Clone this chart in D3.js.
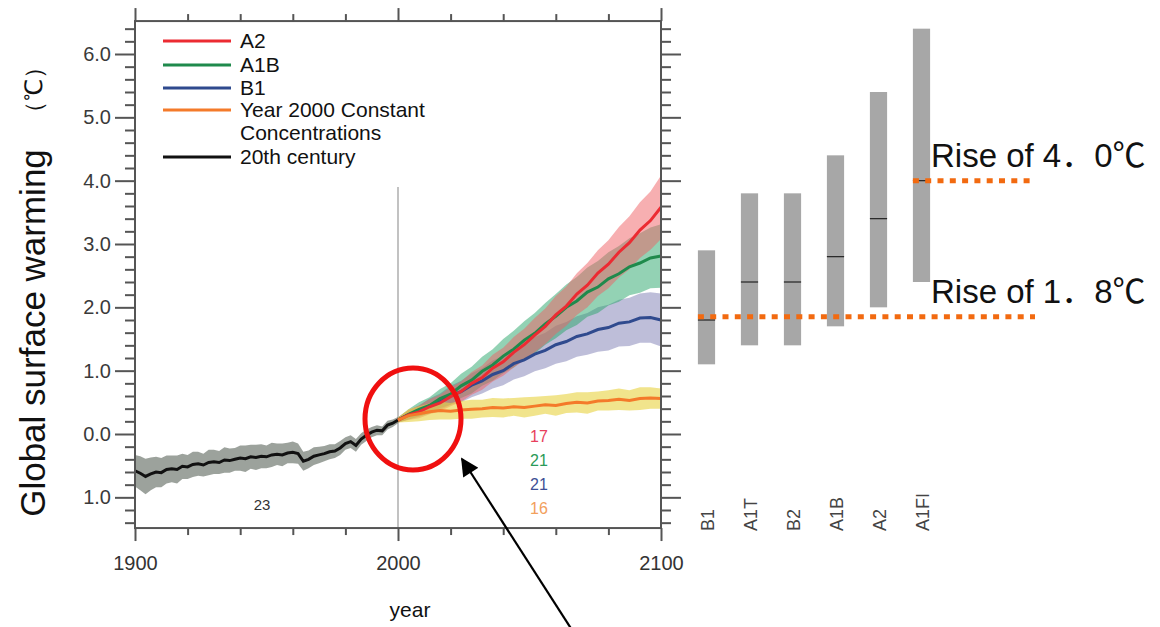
<!DOCTYPE html>
<html>
<head>
<meta charset="utf-8">
<script src="https://cdn.jsdelivr.net/npm/d3@7"></script>
<style>
  body { margin: 0; background: #fff; }
  svg { display: block; }
  text { font-family: "Liberation Sans", Arial, sans-serif; }
</style>
</head>
<body>
<svg id="drawing_region"></svg>
<script>
// ---- data ----
var histYears = d3.range(1900, 2001, 2);
var histValues = [-0.58,-0.62,-0.67,-0.63,-0.60,-0.61,-0.56,-0.55,-0.56,-0.51,
                  -0.52,-0.48,-0.47,-0.49,-0.45,-0.44,-0.45,-0.41,-0.42,-0.40,
                  -0.38,-0.39,-0.36,-0.37,-0.35,-0.36,-0.33,-0.32,-0.33,-0.30,
                  -0.29,-0.31,-0.43,-0.40,-0.35,-0.33,-0.31,-0.28,-0.27,-0.22,
                  -0.15,-0.12,-0.18,-0.08,-0.02,0.03,0.06,0.05,0.14,0.17,
                  0.22];
var histSpread = [0.25,0.27,0.28,0.26,0.24,0.23,0.22,0.21,0.22,0.20,
                  0.19,0.20,0.19,0.18,0.20,0.19,0.18,0.20,0.19,0.18,
                  0.20,0.21,0.19,0.20,0.19,0.18,0.19,0.17,0.18,0.16,
                  0.17,0.16,0.15,0.14,0.14,0.13,0.12,0.12,0.11,0.11,
                  0.10,0.10,0.10,0.09,0.09,0.08,0.08,0.07,0.07,0.06,
                  0.05];

var projYears = [2000,2004,2008,2012,2016,2020,2024,2028,2032,2036,2040,2044,2048,2052,2056,2060,2064,2068,2072,2076,2080,2084,2088,2092,2096,2100];
var a2Values  = [0.22,0.30,0.35,0.43,0.49,0.59,0.67,0.80,0.89,1.04,1.14,1.29,1.41,1.56,1.70,1.88,2.02,2.21,2.35,2.54,2.68,2.87,3.02,3.22,3.37,3.58];
var a2Spread  = [0.04,0.08,0.10,0.12,0.13,0.15,0.16,0.18,0.19,0.21,0.22,0.24,0.25,0.27,0.28,0.30,0.31,0.33,0.35,0.36,0.38,0.40,0.42,0.44,0.46,0.50];
var a1bValues = [0.22,0.31,0.39,0.45,0.56,0.63,0.76,0.85,0.99,1.09,1.23,1.34,1.48,1.59,1.74,1.86,2.00,2.10,2.24,2.32,2.45,2.53,2.64,2.70,2.78,2.81];
var a1bSpread = [0.04,0.08,0.11,0.13,0.15,0.17,0.19,0.21,0.23,0.25,0.27,0.29,0.30,0.32,0.33,0.35,0.36,0.38,0.39,0.41,0.42,0.44,0.45,0.47,0.48,0.50];
var b1Values  = [0.22,0.30,0.36,0.45,0.51,0.61,0.67,0.77,0.84,0.94,1.00,1.11,1.17,1.26,1.32,1.41,1.46,1.54,1.58,1.65,1.68,1.75,1.77,1.83,1.84,1.80];
var b1Spread  = [0.04,0.07,0.09,0.11,0.13,0.15,0.17,0.19,0.20,0.22,0.23,0.25,0.26,0.27,0.28,0.30,0.31,0.32,0.33,0.35,0.36,0.37,0.38,0.39,0.40,0.42];
var constValues = [0.22,0.29,0.32,0.35,0.37,0.36,0.38,0.39,0.40,0.42,0.41,0.43,0.42,0.44,0.46,0.45,0.48,0.50,0.49,0.52,0.53,0.55,0.53,0.56,0.57,0.56];
var constSpread = [0.04,0.10,0.12,0.13,0.14,0.13,0.14,0.15,0.14,0.15,0.15,0.14,0.16,0.15,0.14,0.16,0.15,0.16,0.17,0.15,0.16,0.17,0.16,0.18,0.17,0.16];

var yTickValues = [-1,0,1,2,3,4,5,6];
var yTickLabels = ["1.0","0.0","1.0","2.0","3.0","4.0","5.0","6.0"];
var xTickValues = [1900,2000,2100];

var legendLabels = ["A2","A1B","B1","Year 2000 Constant","20th century"];
var modelCounts = ["17","21","21","16"];
var histCount = "23";

var scenarios = ["B1","A1T","B2","A1B","A2","A1FI"];
var rangeLow  = [1.1,1.4,1.4,1.7,2.0,2.4];
var rangeHigh = [2.9,3.8,3.8,4.4,5.4,6.4];
var bestEst   = [1.8,2.4,2.4,2.8,3.4,4.0];

var riseLevels = [1.85,4.0];
var riseNumbers = [["1","8"],["4","0"]];

// ---- chart ----
var config = { width: 1160, height: 627 };
var svg = d3.select('#drawing_region')
  .attr('width', config.width)
  .attr('height', config.height);

var xscale = d3.scaleLinear().domain([1900, 2100]).range([135, 661]);
var yscale = d3.scaleLinear().domain([0, 6]).range([434, 54]);
var yTop = 6.52, yBottom = -1.485;

var colors = {
  a2: '#ec2b32', a1b: '#1f8a4c', b1: '#2f4a8e', cst: '#f47a2a', hist: '#111'
};
var fills = {
  a2: 'rgba(240,95,100,0.50)', a1b: 'rgba(40,165,105,0.50)', b1: 'rgba(100,100,165,0.42)',
  cst: 'rgba(232,212,70,0.62)', hist: 'rgba(95,105,95,0.62)'
};

function series(years, vals, spread) {
  return years.map((yr, i) => ({ x: yr, v: vals[i], s: spread[i] }));
}
var hist = series(histYears, histValues, histSpread);
var projections = [
  { key: 'b1',  data: series(projYears, b1Values, b1Spread) },
  { key: 'a1b', data: series(projYears, a1bValues, a1bSpread) },
  { key: 'a2',  data: series(projYears, a2Values, a2Spread) },
  { key: 'cst', data: series(projYears, constValues, constSpread) }
];

var area = d3.area()
  .x(d => xscale(d.x))
  .y0(d => yscale(d.v - d.s))
  .y1(d => yscale(d.v + d.s));
var line = d3.line()
  .x(d => xscale(d.x))
  .y(d => yscale(d.v));

var chart = svg.append('g');

// vertical 2000 line
chart.append('line')
  .attr('x1', xscale(2000)).attr('x2', xscale(2000))
  .attr('y1', yscale(3.9)).attr('y2', yscale(yBottom))
  .attr('stroke', '#999').attr('stroke-width', 1.2);

// bands
chart.append('path').datum(hist).attr('d', area).attr('fill', fills.hist);
projections.forEach(p => {
  chart.append('path').datum(p.data).attr('d', area).attr('fill', fills[p.key]);
});
// lines
chart.append('path').datum(hist).attr('d', line)
  .attr('fill', 'none').attr('stroke', colors.hist).attr('stroke-width', 3);
projections.forEach(p => {
  chart.append('path').datum(p.data).attr('d', line)
    .attr('fill', 'none').attr('stroke', colors[p.key]).attr('stroke-width', 3);
});

// frame
var fx0 = xscale(1900), fx1 = xscale(2100), fy0 = yscale(yTop), fy1 = yscale(yBottom);
chart.append('rect')
  .attr('x', fx0).attr('y', fy0)
  .attr('width', fx1 - fx0).attr('height', fy1 - fy0)
  .attr('fill', 'none').attr('stroke', '#555').attr('stroke-width', 2);

// axes with outward ticks
var yMinor = d3.range(-14, 65, 2).map(d => d / 10).filter(d => !yTickValues.includes(d));
var xMinor = d3.range(1920, 2100, 20).filter(d => !xTickValues.includes(d));

function tickStyle(g) {
  g.select('.domain').remove();
  g.selectAll('.tick line').attr('stroke', '#555').attr('stroke-width', 2);
}
chart.append('g').attr('transform', `translate(${fx0},0)`)
  .call(d3.axisLeft(yscale).tickValues(yMinor).tickSize(10).tickFormat(''))
  .call(tickStyle);
chart.append('g').attr('transform', `translate(${fx1},0)`)
  .call(d3.axisRight(yscale).tickValues(yMinor).tickSize(10).tickFormat(''))
  .call(tickStyle);
chart.append('g').attr('transform', `translate(${fx1},0)`)
  .call(d3.axisRight(yscale).tickValues(yTickValues).tickSize(20).tickFormat(''))
  .call(tickStyle);
var yaxis = chart.append('g').attr('transform', `translate(${fx0},0)`)
  .call(d3.axisLeft(yscale).tickValues(yTickValues).tickSize(20).tickPadding(4)
    .tickFormat((d, i) => yTickLabels[i]))
  .call(tickStyle);
yaxis.selectAll('.tick text')
  .attr('font-size', 20).attr('fill', '#3a3a3a')
  .attr('font-family', '"Liberation Sans", Arial, sans-serif');

chart.append('g').attr('transform', `translate(0,${fy0})`)
  .call(d3.axisTop(xscale).tickValues(xMinor).tickSize(7).tickFormat(''))
  .call(tickStyle);
chart.append('g').attr('transform', `translate(0,${fy0})`)
  .call(d3.axisTop(xscale).tickValues(xTickValues).tickSize(13).tickFormat(''))
  .call(tickStyle);
chart.append('g').attr('transform', `translate(0,${fy1})`)
  .call(d3.axisBottom(xscale).tickValues(xMinor).tickSize(7).tickFormat(''))
  .call(tickStyle);
var xaxis = chart.append('g').attr('transform', `translate(0,${fy1})`)
  .call(d3.axisBottom(xscale).tickValues(xTickValues).tickSize(13).tickPadding(15)
    .tickFormat(d3.format('d')))
  .call(tickStyle);
xaxis.selectAll('.tick text')
  .attr('font-size', 20).attr('fill', '#333')
  .attr('font-family', '"Liberation Sans", Arial, sans-serif');

// axis titles
svg.append('text')
  .attr('transform', `translate(45,333) rotate(-90)`)
  .attr('text-anchor', 'middle')
  .attr('font-size', 35).attr('fill', '#111')
  .text('Global surface warming');
svg.append('text')
  .attr('transform', `translate(42,90) rotate(-90)`)
  .attr('text-anchor', 'middle')
  .attr('font-size', 24).attr('fill', '#111')
  .attr('font-family', '"Noto Sans CJK JP", sans-serif')
  .text('（℃）');
svg.append('text')
  .attr('x', 410).attr('y', 617)
  .attr('text-anchor', 'middle')
  .attr('font-size', 21).attr('fill', '#111')
  .text('year');

// legend
var legendKeys = ['a2','a1b','b1','cst','hist'];
var legendRows = [41, 65, 88, 110, 157];
var legend = svg.append('g');
function legendText(y, s) {
  legend.append('text')
    .attr('x', 240).attr('y', y + 7)
    .attr('font-size', 21).attr('fill', '#111')
    .attr('textLength', s.length > 12 ? null : null)
    .text(s);
}
legendKeys.forEach((k, i) => {
  legend.append('line')
    .attr('x1', 163).attr('x2', 231)
    .attr('y1', legendRows[i]).attr('y2', legendRows[i])
    .attr('stroke', colors[k]).attr('stroke-width', 3);
  legendText(legendRows[i], legendLabels[i]);
});
legendText(133, 'Concentrations');

// model counts
svg.append('text').attr('x', 262).attr('y', 510)
  .attr('text-anchor', 'middle').attr('font-size', 15).attr('fill', '#333')
  .text(histCount);
var countColors = ['#e8405c', '#2a9a58', '#3d4f95', '#f2a05c'];
modelCounts.forEach((c, i) => {
  svg.append('text').attr('x', 539).attr('y', 442 + i * 24)
    .attr('text-anchor', 'middle').attr('font-size', 16).attr('fill', countColors[i])
    .text(c);
});

// right panel: likely ranges
var bscale = d3.scaleBand().domain(scenarios).range([685, 943]).paddingInner(0.6).paddingOuter(0.3);
var panel = svg.append('g');
panel.selectAll('rect.range')
  .data(scenarios)
  .join('rect')
  .attr('class', 'range')
  .attr('x', d => bscale(d))
  .attr('width', bscale.bandwidth())
  .attr('y', (d, i) => yscale(rangeHigh[i]))
  .attr('height', (d, i) => yscale(rangeLow[i]) - yscale(rangeHigh[i]))
  .attr('fill', '#a7a7a7');
panel.selectAll('line.best')
  .data(scenarios)
  .join('line')
  .attr('class', 'best')
  .attr('x1', d => bscale(d)).attr('x2', d => bscale(d) + bscale.bandwidth())
  .attr('y1', (d, i) => yscale(bestEst[i])).attr('y2', (d, i) => yscale(bestEst[i]))
  .attr('stroke', '#222').attr('stroke-width', 1.2);
panel.selectAll('text.scen')
  .data(scenarios)
  .join('text')
  .attr('class', 'scen')
  .attr('transform', d => `translate(${bscale(d) + bscale.bandwidth() / 2 + 7},531) rotate(-90)`)
  .attr('font-size', 18).attr('fill', '#444')
  .text(d => d);

// rise lines
var riseStart = [bscale('B1'), bscale('A1FI')];
riseLevels.forEach((lv, i) => {
  svg.append('line')
    .attr('x1', riseStart[i]).attr('x2', 1035)
    .attr('y1', yscale(lv)).attr('y2', yscale(lv))
    .attr('stroke', '#f26a10').attr('stroke-width', 5)
    .attr('stroke-dasharray', '6,6.3');
  var t = svg.append('text')
    .attr('x', 931).attr('y', yscale(lv) - 14)
    .attr('font-size', 33).attr('fill', '#111');
  t.append('tspan').text('Rise of ' + riseNumbers[i][0]);
  t.append('tspan').attr('font-family', '"Noto Sans CJK JP", sans-serif').text('．');
  t.append('tspan').text(riseNumbers[i][1]);
  t.append('tspan').attr('font-family', '"Noto Sans CJK JP", sans-serif').text('℃');
});

// highlight ellipse and arrow
svg.append('ellipse')
  .attr('cx', 413).attr('cy', 419).attr('rx', 48).attr('ry', 51)
  .attr('fill', 'none').attr('stroke', '#f01010').attr('stroke-width', 5);
svg.append('defs').append('marker')
  .attr('id', 'arrow').attr('viewBox', '0 0 10 10')
  .attr('refX', 9).attr('refY', 5)
  .attr('markerWidth', 24).attr('markerHeight', 18)
  .attr('markerUnits', 'userSpaceOnUse')
  .attr('orient', 'auto')
  .append('path').attr('d', 'M0,0 L10,5 L0,10 Z').attr('fill', '#000');
svg.append('line')
  .attr('x1', 572).attr('y1', 630).attr('x2', 462).attr('y2', 459)
  .attr('stroke', '#000').attr('stroke-width', 2.2)
  .attr('marker-end', 'url(#arrow)');
</script>
</body>
</html>
